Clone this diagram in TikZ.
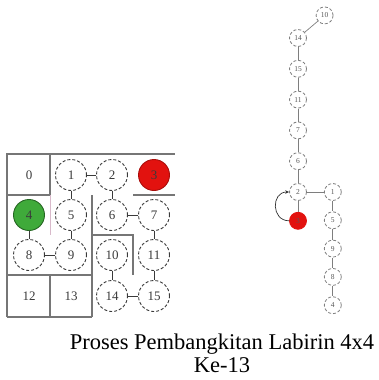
\documentclass[tikz,border=0pt]{standalone}
\usepackage{fontspec}
\setmainfont{Liberation Serif}
\usetikzlibrary{arrows.meta,positioning}
\definecolor{MazeInk}{HTML}{3A3A3A}
\definecolor{MazeWall}{HTML}{767676}
\definecolor{MazeFaint}{HTML}{D8B9CA}
\definecolor{MazeRed}{HTML}{E2120F}
\definecolor{MazeGreen}{HTML}{3FAA3A}
\definecolor{TreeInk}{HTML}{7E7E7E}
\tikzset{
  maze/cell/.style={
    circle, draw=MazeInk, densely dashed, line width=.9pt, fill=white,
    minimum size=31pt, inner sep=0pt,
    font=\fontsize{13}{13}\selectfont, text=MazeInk
  },
  maze/empty/.style={
    minimum size=31pt, inner sep=0pt,
    font=\fontsize{13}{13}\selectfont, text=MazeInk
  },
  maze/current/.style={maze/cell, solid, fill=MazeRed, draw=MazeRed!75!black},
  maze/start/.style={maze/cell, solid, fill=MazeGreen, draw=MazeGreen!60!black},
  maze/wall/.style={draw=MazeWall, line width=1.1pt},
  maze/faint/.style={draw=MazeFaint, line width=.6pt},
  maze/link/.style={draw=MazeInk, line width=.9pt},
  tree/node/.style={
    circle, draw=TreeInk, densely dashed, line width=.8pt, fill=white,
    minimum size=17pt, inner sep=0pt,
    font=\fontsize{7.5}{7.5}\selectfont, text=TreeInk!70!black
  },
  tree/current/.style={tree/node, solid, fill=MazeRed, draw=MazeRed},
  tree/link/.style={draw=TreeInk, line width=.7pt},
  tree/back/.style={
    -{Stealth[length=4pt,width=3.5pt]}, line width=.7pt, draw=black!80
  },
  caption/.style={font=\fontsize{22.5}{23}\selectfont, align=center}
}

\begin{document}
\begin{tikzpicture}[x=1pt,y=-1pt]
  \useasboundingbox (0,0) rectangle (378,380);
  % maze walls
  \draw[maze/wall] (7,317) -- (7,154) -- (175,154);
  \draw[maze/wall] (50,154) -- (50,195) -- (7,195);
  \draw[maze/faint] (50,195) -- (50,235);
  \draw[maze/wall] (133,195) -- (175,195);
  \draw[maze/wall] (92,195) -- (92,317);
  \draw[maze/wall] (92,235) -- (133,235) -- (133,275);
  \draw[maze/wall] (7,275) -- (92,275);
  \draw[maze/wall] (50,275) -- (50,317);
  \draw[maze/wall] (7,317) -- (92,317);
  % maze cells
  \node[maze/empty] (c0) at (29,175) {0};
  \node[maze/cell] (c1) at (71,175) {1};
  \node[maze/cell] (c2) at (112,175) {2};
  \node[maze/current] (c3) at (154,175) {3};
  \node[maze/start] (c4) at (29,215) {4};
  \node[maze/cell] (c5) at (71,215) {5};
  \node[maze/cell] (c6) at (112,215) {6};
  \node[maze/cell] (c7) at (154,215) {7};
  \node[maze/cell] (c8) at (29,255) {8};
  \node[maze/cell] (c9) at (71,255) {9};
  \node[maze/cell] (c10) at (112,255) {10};
  \node[maze/cell] (c11) at (154,255) {11};
  \node[maze/empty] (c12) at (29,296) {12};
  \node[maze/empty] (c13) at (71,296) {13};
  \node[maze/cell] (c14) at (112,296) {14};
  \node[maze/cell] (c15) at (154,296) {15};
  \draw[maze/link] (c1) -- (c2);
  \draw[maze/link] (c1) -- (c5);
  \draw[maze/link] (c2) -- (c6);
  \draw[maze/link] (c6) -- (c7);
  \draw[maze/link] (c7) -- (c11);
  \draw[maze/link] (c11) -- (c15);
  \draw[maze/link] (c14) -- (c15);
  \draw[maze/link] (c10) -- (c14);
  \draw[maze/link] (c4) -- (c8);
  \draw[maze/link] (c8) -- (c9);
  \draw[maze/link] (c5) -- (c9);
  % search tree
  \node[tree/node] (t2) at (298,192) {2};
  \node[tree/node,above=13pt of t2] (t6) {6};
  \node[tree/node,above=13pt of t6] (t7) {7};
  \node[tree/node,above=13pt of t7] (t11) {11};
  \node[tree/node,above=13pt of t11] (t15) {15};
  \node[tree/node,above=13pt of t15] (t14) {14};
  \node[tree/node,above right=10pt and 14pt of t14] (t10) {10};
  \node[tree/current,below=11pt of t2] (t3) {3};
  \node[tree/node,right=17pt of t2] (t1) {1};
  \node[tree/node,below=10.5pt of t1] (t5) {5};
  \node[tree/node,below=10.5pt of t5] (t9) {9};
  \node[tree/node,below=10.5pt of t9] (t8) {8};
  \node[tree/node,below=10.5pt of t8] (t4) {4};
  \draw[tree/link] (t10) -- (t14);
  \draw[tree/link] (t14) -- (t15);
  \draw[tree/link] (t15) -- (t11);
  \draw[tree/link] (t11) -- (t7);
  \draw[tree/link] (t7) -- (t6);
  \draw[tree/link] (t6) -- (t2);
  \draw[tree/link] (t2) -- (t3);
  \draw[tree/link] (t2) -- (t1);
  \draw[tree/link] (t1) -- (t5);
  \draw[tree/link] (t5) -- (t9);
  \draw[tree/link] (t9) -- (t8);
  \draw[tree/link] (t8) -- (t4);
  \draw[tree/back] (t3.west) to[out=180,in=180,looseness=1.6] (t2.west);
  % caption
  \node[caption] (cap) at (222,353) {Proses Pembangkitan Labirin 4x4\\Ke-13};
\end{tikzpicture}
\end{document}
